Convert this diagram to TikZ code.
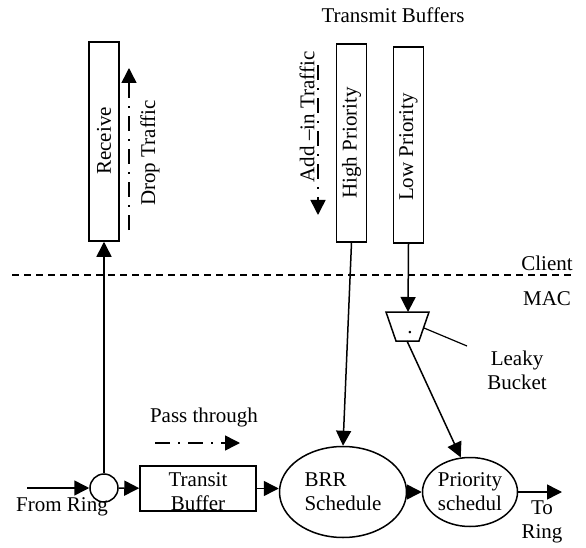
\documentclass[tikz,border=0pt]{standalone}
\usepackage{fontspec}
\setmainfont{Liberation Serif}
\usetikzlibrary{arrows.meta,shapes.geometric}
\begin{document}
\begin{tikzpicture}[x=1pt,y=-1pt,
  every node/.style={font=\fontsize{21pt}{24pt}\selectfont, inner sep=0pt},
  box/.style={draw, line width=1.5pt, rectangle},
  vbox/.style={box, minimum width=30pt},
  oval/.style={draw, line width=1.5pt, ellipse},
  flow/.style={line width=1.5pt, -{Triangle[length=15pt,width=15pt]}},
  dashdot/.style={line width=1.5pt, dash pattern=on 15pt off 8pt on 2pt off 8pt,
                  -{Triangle[length=15pt,width=15pt]}},
  sepline/.style={line width=1.2pt, dash pattern=on 7pt off 5pt},
  lbl/.style={align=center},
]
\useasboundingbox (0,0) rectangle (586,548);

% client-side buffers
\node[vbox, minimum height=199pt] (rcv) at (104,141.5) {};
\node[rotate=90] (rcvtxt) at (104,141) {Receive};
\node[rotate=90] (droptxt) at (150,153) {Drop Traffic};
\coordinate (dropA) at (129,230);
\coordinate (dropB) at (129,68);
\draw[dashdot] (dropA) -- (dropB);

\node (tbuftxt) at (393,15) {Transmit Buffers};
\node[vbox, minimum height=198pt] (hp) at (351.5,143) {};
\node[vbox, minimum height=196pt] (lp) at (408.5,145) {};
\node[rotate=90] (hptxt) at (351.5,143) {High Priority};
\node[rotate=90] (lptxt) at (408.5,147) {Low Priority};
\node[rotate=90] (addtxt) at (307,117) {Add –in Traffic};
\coordinate (addA) at (318,65);
\coordinate (addB) at (318,215);
\draw[dashdot] (addA) -- (addB);

% client / MAC boundary
\coordinate (sepL) at (12,275);
\coordinate (sepR) at (575,275);
\draw[sepline] (sepL) -- (sepR);
\node (clienttxt) at (547,263) {Client};
\node (mactxt) at (547,299) {MAC};

% leaky bucket
\coordinate (lbtop) at (408,312);
\coordinate (lbbot) at (407,341);
\coordinate (lbright) at (424,328);
\coordinate (lbtail) at (467,346);
\draw[line width=1.5pt] (386,312) -- (429,312) -- (419,341) -- (396,341) -- cycle;
\node (lbdot) at (410,333) {.};
\node[lbl] (lbtxt) at (517,370) {Leaky\\Bucket};

% ring datapath
\node[draw, circle, line width=1.5pt, minimum size=28pt] (jn) at (104,488) {};
\node (frtxt) at (62,507) {From Ring};
\node[box, minimum width=116pt, minimum height=45pt] (tb) at (198,488.5) {};
\node[lbl] (tbtxt) at (198,492) {Transit\\Buffer};
\node (passtxt) at (204,417) {Pass through};
\coordinate (passA) at (155,443);
\coordinate (passB) at (240,443);
\draw[dashdot] (passA) -- (passB);

\node[oval, minimum width=127pt, minimum height=91pt, align=left] (brr) at (343,492) {BRR\\Schedule};
\node[oval, minimum width=95pt, minimum height=69pt, align=center] (ps) at (470,492) {Priority\\schedul};
\node[lbl] (torngtxt) at (542,522) {To\\Ring};

\coordinate (frin) at (27,488);
\coordinate (trout) at (562,492);

% connectors
\draw[flow] (frin) -- (jn);
\draw[flow] (jn) -- (rcv);
\draw[flow] (jn) -- (tb);
\draw[flow] (tb.east) -- (tb.east -| brr.west);
\draw[flow] (hp.south) -- (brr.north);
\draw[flow] (lp.south) -- (lbtop);
\draw[line width=1.2pt] (lbright) -- (lbtail);
\draw[flow] (lbbot) -- (ps.105);
\draw[flow] (brr) -- (ps);
\draw[flow] (ps) -- (trout);
\end{tikzpicture}
\end{document}
